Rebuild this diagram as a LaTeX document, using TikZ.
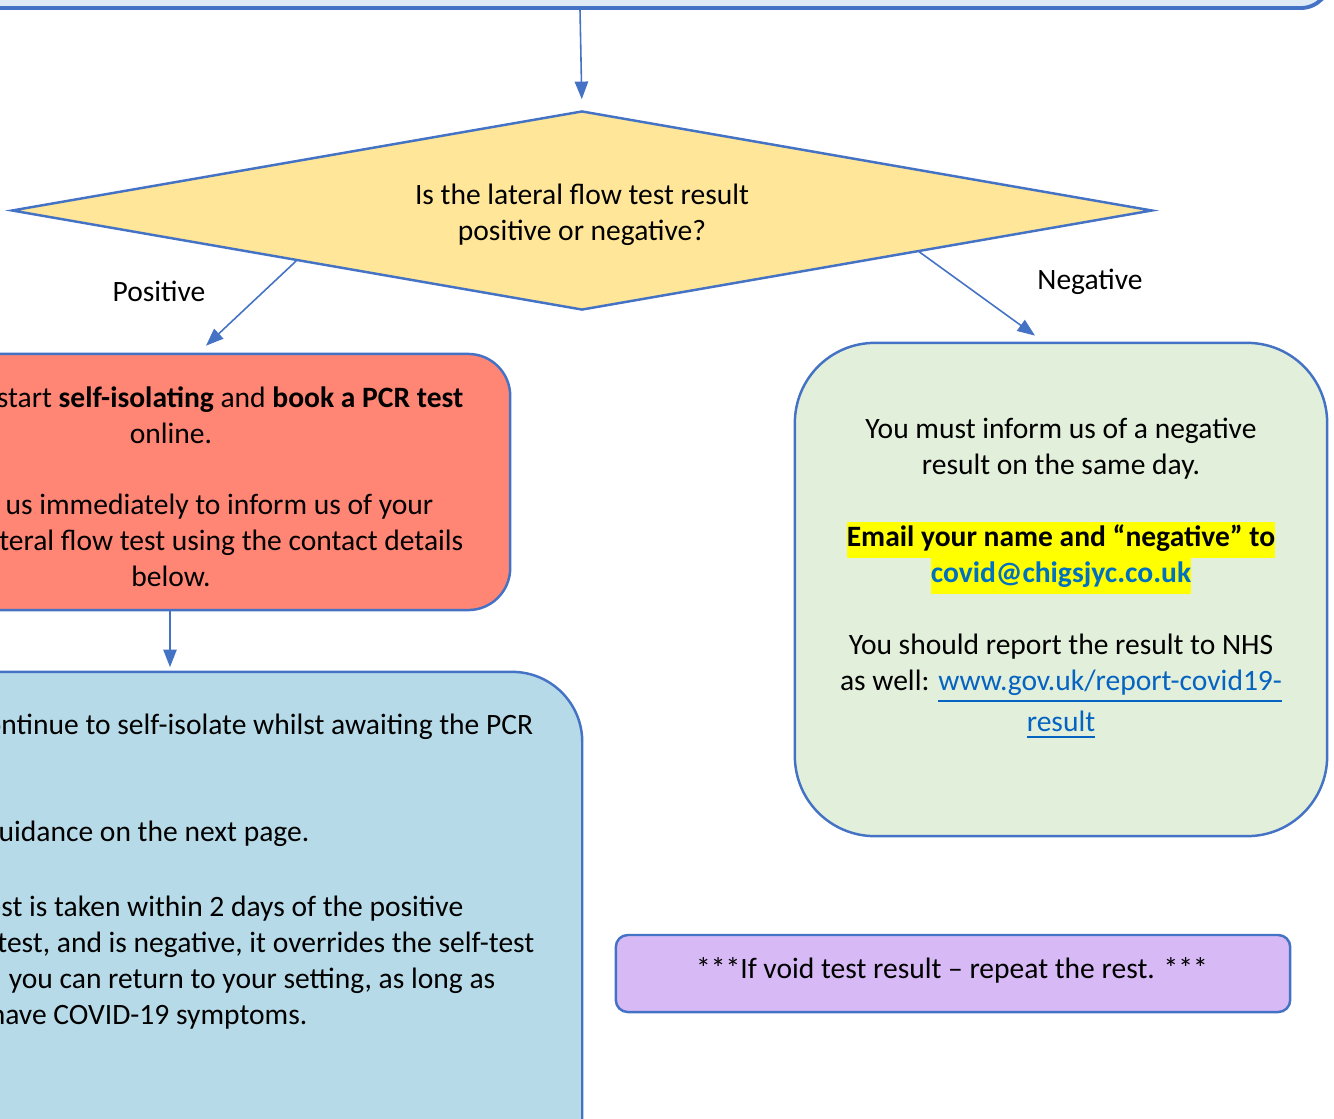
\documentclass[tikz,border=0pt]{standalone}
\usepackage{fontspec}
\setmainfont{Carlito}
\usepackage{xcolor}
\usetikzlibrary{arrows.meta,shapes.geometric,calc}

\definecolor{lineblue}{HTML}{4472C4}
\definecolor{topfill}{HTML}{DEEBF7}
\definecolor{decyellow}{HTML}{FFE699}
\definecolor{pcrred}{HTML}{FF8575}
\definecolor{isoblue}{HTML}{B6DAE7}
\definecolor{neggreen}{HTML}{E2EFDA}
\definecolor{voidpurple}{HTML}{D6B9F5}
\definecolor{hiyellow}{HTML}{FFFF00}
\definecolor{mailblue}{HTML}{0070C0}
\definecolor{linkblue}{HTML}{0563C1}

\newcommand\bodysize{\fontsize{8.4pt}{10.24pt}\selectfont}
\newcommand\hilite[1]{{\setlength\fboxsep{0pt}\colorbox{hiyellow}{\strut #1}}}

\begin{document}
\begin{tikzpicture}[x=0.01cm, y=-0.01cm, font=\bodysize]
            \useasboundingbox (0,0) rectangle (1334,1118);
            \clip (0,0) rectangle (1334,1118);

            \begin{scope}[every node/.style={draw=lineblue,line width=0.7pt,inner sep=0pt}]
                \node[fill=topfill, line width=1.1pt, rounded corners=0.3cm,
                      minimum width=15cm, minimum height=2cm] (start) at (580,-92) {};
                \node[diamond, fill=decyellow, aspect=5.73, minimum width=11.4cm,
                      minimum height=1.99cm] (dec) at (582,210.5) {};
                \node[fill=pcrred, rounded corners=0.42cm,
                      minimum width=6.8cm, minimum height=2.56cm] (pcr) at (170,482) {};
                \node[fill=isoblue, rounded corners=0.7cm,
                      minimum width=8.24cm, minimum height=5.28cm] (iso) at (170,936) {};
                \node[fill=neggreen, rounded corners=0.8cm,
                      minimum width=5.32cm, minimum height=4.93cm] (neg) at (1061,589.5) {};
                \node[fill=voidpurple, rounded corners=0.12cm,
                      minimum width=6.74cm, minimum height=0.77cm] (void) at (953,973.5) {};
            \end{scope}

            \begin{scope}[>={Triangle[length=5pt,width=3.8pt]},
                          every edge/.style={draw=lineblue,line width=0.45pt}]
                \path [->] (start.south) edge[shorten >=3pt] (dec.north);
                \path [->] (dec.south west) edge ($(pcr.north)+(36,-7)$);
                \path [->] ($(dec.east)!0.41!(dec.south)$) edge ($(neg.north)+(-26,-6)$);
                \path [->] (pcr.south) edge[shorten >=1pt] (iso.north);
            \end{scope}

            \begin{scope}[every node/.style={inner sep=0pt}]
                \node[align=center] (dectext) at (582,214.5)
                    {Is the lateral flow test result\\positive or negative?};
                \node[anchor=base] (pos) at (159,301) {Positive};
                \node[anchor=base] (negl) at (1090,289) {Negative};

                \node[anchor=base east] (pcr1) at (464,407)
                    {start \textbf{self-isolating} and \textbf{book a PCR test}};
                \node[anchor=base] (pcr2) at (171,443) {online.};
                \node[anchor=base east] (pcr3) at (434,514) {t us immediately to inform us of your};
                \node[anchor=base east] (pcr4) at (464,550) {teral flow test using the contact details};
                \node[anchor=base] (pcr5) at (171,586) {below.};

                \node[anchor=base east] (iso1) at (534,734) {ontinue to self-isolate whilst awaiting the PCR};
                \node[anchor=base east] (iso2) at (310,841) {uidance on the next page.};
                \node[anchor=base east] (iso3) at (464,916) {est is taken within 2 days of the positive};
                \node[anchor=base east] (iso4) at (535,952) {test, and is negative, it overrides the self-test};
                \node[anchor=base east] (iso5) at (496,988) {l you can return to your setting, as long as};
                \node[anchor=base east] (iso6) at (308,1024) {have COVID-19 symptoms.};

                \node[align=center] (negtext) at (1061,578)
                    {\strut You must inform us of a negative\\
                     result on the same day.\\[10.24pt]
                     \hilite{\textbf{Email your name and “negative” to}}\\
                     \hilite{\textbf{\textcolor{mailblue}{covid@chigsjyc.co.uk}}}\\[10.24pt]
                     You should report the result to NHS\\
                     as well: \textcolor{linkblue}{\underline{www.gov.uk/report-covid19-}}\\
                     \textcolor{linkblue}{\underline{result}}\strut};

                \node[anchor=base] (voidtext) at (952,978)
                    {***If void test result – repeat the rest. ***};
            \end{scope}
\end{tikzpicture}
\end{document}
